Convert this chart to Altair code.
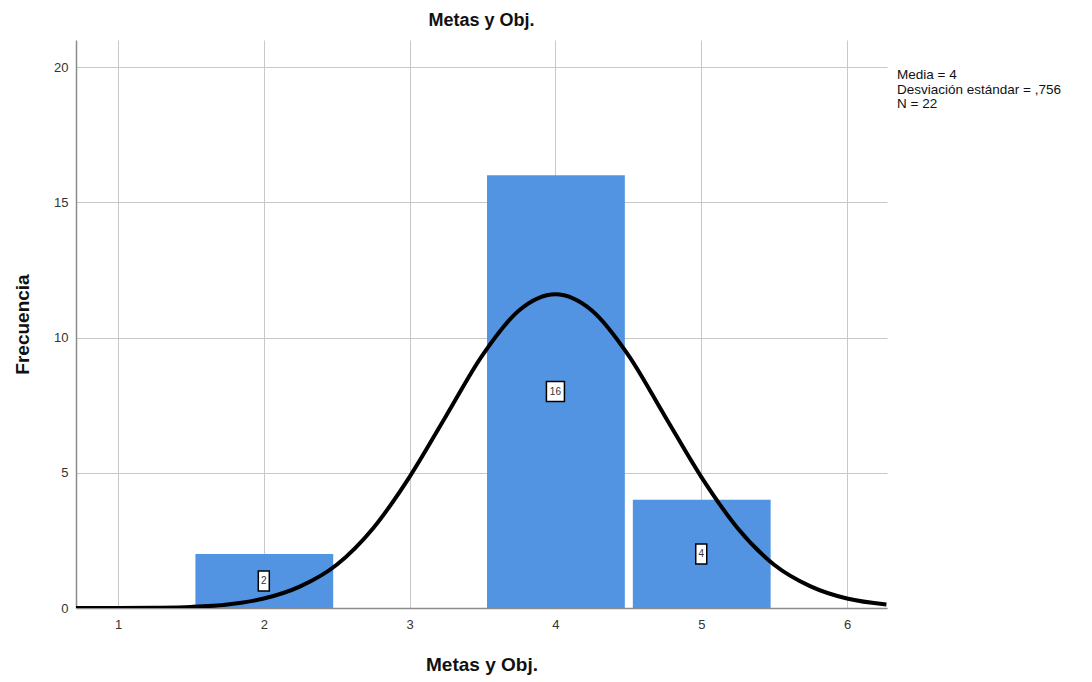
import altair as alt
import pandas as pd

# Histogram data
bar_values = [2, 4, 5]
bar_counts = [2, 16, 4]
bar_labels = ["2", "16", "4"]

# Normal curve
curve_x = [0.71, 1.0, 1.25, 1.5, 1.75, 2.0, 2.25, 2.5, 2.75, 3.0, 3.25, 3.5, 3.75,
           4.0, 4.25, 4.5, 4.75, 5.0, 5.25, 5.5, 5.75, 6.0, 6.27]
curve_y = [0.0, 0.0, 0.01, 0.04, 0.13, 0.35, 0.8, 1.6, 2.95, 4.85, 7.1, 9.35, 11.0,
           11.6, 11.0, 9.35, 7.1, 4.85, 2.95, 1.6, 0.8, 0.35, 0.13]

x_ticks = [1, 2, 3, 4, 5, 6]
y_ticks = [0, 5, 10, 15, 20]
stats_lines = ["Media = 4", "Desviación estándar = ,756", "N = 22"]

X_DOMAIN = [0.712, 6.274]
Y_DOMAIN = [0, 21]
FONT = "Liberation Sans"

bars_df = pd.DataFrame({
    "value": bar_values,
    "count": bar_counts,
    "label": bar_labels,
})
bars_df["lo"] = bars_df["value"] - 0.5
bars_df["hi"] = bars_df["value"] + 0.5
bars_df["mid"] = bars_df["count"] / 2
curve_df = pd.DataFrame({"x": curve_x, "y": curve_y})

xscale = alt.Scale(domain=X_DOMAIN, nice=False, zero=False)
yscale = alt.Scale(domain=Y_DOMAIN, nice=False)

x_axis = alt.Axis(values=x_ticks, format="d", title="Metas y Obj.", grid=True, gridColor="#c8c8c8",
                  gridWidth=1, domainColor="#8c8c8c", domainWidth=1.5, ticks=False,
                  labelPadding=10, labelFontSize=13, labelColor="#333333", labelFont=FONT,
                  titleFont=FONT, titleFontSize=19, titleFontWeight="bold",
                  titlePadding=24, titleColor="#111111")
y_axis = alt.Axis(values=y_ticks, format="d", title="Frecuencia", grid=True, gridColor="#c8c8c8",
                  gridWidth=1, domainColor="#8c8c8c", domainWidth=1.5, ticks=False,
                  labelPadding=8, labelFontSize=13, labelColor="#333333", labelFont=FONT,
                  titleFont=FONT, titleFontSize=19, titleFontWeight="bold",
                  titlePadding=21, titleColor="#111111")

bars = alt.Chart(bars_df).mark_bar(color="#5294E2", binSpacing=8).encode(
    x=alt.X("lo:Q", bin="binned", scale=xscale, axis=x_axis),
    x2="hi:Q",
    y=alt.Y("count:Q", scale=yscale, axis=y_axis),
)

# label boxes
box_paths = {"2": "M-0.55,-1H0.55V1H-0.55Z", "16": "M-0.9,-1H0.9V1H-0.9Z", "4": "M-0.55,-1H0.55V1H-0.55Z"}
boxes = alt.Chart(bars_df).mark_point(filled=True, fill="white", stroke="black",
                                      strokeWidth=1.5, opacity=1, size=400).encode(
    x=alt.X("value:Q", scale=xscale),
    y=alt.Y("mid:Q", scale=yscale),
    shape=alt.Shape("label:N", scale=alt.Scale(domain=list(box_paths.keys()),
                                               range=list(box_paths.values())), legend=None),
)
labels = alt.Chart(bars_df).mark_text(fontSize=10, font=FONT, color="#333333").encode(
    x=alt.X("value:Q", scale=xscale),
    y=alt.Y("mid:Q", scale=yscale),
    text="label:N",
)

curve = alt.Chart(curve_df).mark_line(color="black", strokeWidth=4,
                                      interpolate="monotone", clip=True).encode(
    x=alt.X("x:Q", scale=xscale),
    y=alt.Y("y:Q", scale=yscale),
)

stats = alt.Chart(pd.DataFrame({"t": [0]})).mark_text(
    align="left", baseline="top", fontSize=13.5, font=FONT, color="#111111",
    lineHeight=14.5, text=stats_lines,
).encode(x=alt.value(821), y=alt.value(28))

chart = alt.layer(bars, curve, boxes, labels, stats).properties(
    width=811, height=568,
    title=alt.TitleParams("Metas y Obj.", font=FONT, fontSize=18, fontWeight="bold",
                          color="#111111", anchor="middle", offset=10),
    autosize=alt.AutoSizeParams(type="none"),
    padding={"left": 68, "top": 32, "right": 190, "bottom": 74},
).configure(background="white", view={"stroke": None})

chart.save("out.html", embed_options={"renderer": "svg", "actions": False})
